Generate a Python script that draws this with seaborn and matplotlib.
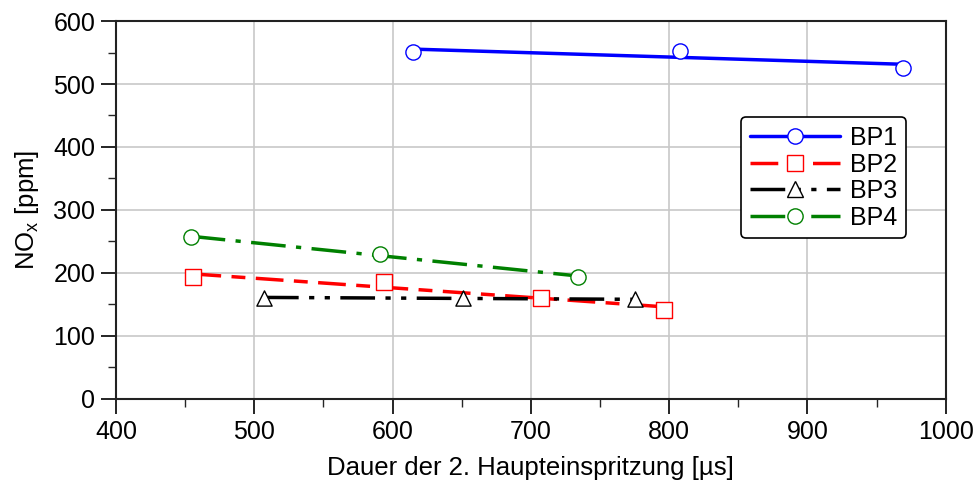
import pandas as pd
import matplotlib.pyplot as plt
import seaborn as sns
from matplotlib.lines import Line2D
from matplotlib.ticker import MultipleLocator

series = ["BP1", "BP2", "BP3", "BP4"]
bp1_x = [614.5, 808, 969]
bp1_y = [551, 552, 526]
bp2_x = [456, 594, 707, 796]
bp2_y = [193, 186, 161, 142]
bp3_x = [507, 651, 775]
bp3_y = [161, 160, 158]
bp4_x = [454, 591, 734]
bp4_y = [257, 230, 194]

colors = {"BP1": "#0000ff", "BP2": "#ff0000", "BP3": "#000000", "BP4": "#008000"}
markers = {"BP1": "o", "BP2": "s", "BP3": "^", "BP4": "o"}
dashes = {"BP1": "-", "BP2": (0, (8, 3, 4, 3)),
          "BP3": (0, (10, 3, 1.5, 3, 1.5, 3)), "BP4": (0, (10, 3, 1.5, 3))}

frames = []
for name, xs, ys in [("BP1", bp1_x, bp1_y), ("BP2", bp2_x, bp2_y),
                     ("BP3", bp3_x, bp3_y), ("BP4", bp4_x, bp4_y)]:
    frames.append(pd.DataFrame({"x": xs, "y": ys, "serie": name}))
df = pd.concat(frames, ignore_index=True)

sns.set_style("ticks")
plt.rcParams["font.family"] = ["Liberation Sans", "DejaVu Sans"]
plt.rcParams["mathtext.fontset"] = "custom"
plt.rcParams["mathtext.rm"] = "Liberation Sans"
plt.rcParams["mathtext.it"] = "Liberation Sans:italic"
plt.rcParams["text.color"] = "black"
plt.rcParams["axes.labelcolor"] = "black"

fig = plt.figure(figsize=(9.77, 4.83), dpi=100)
ax = fig.add_axes([0.1187, 0.174, 0.8493, 0.7825])

handles = []
for name in series:
    sub = df[df["serie"] == name]
    sns.regplot(data=sub, x="x", y="y", ax=ax, ci=None, scatter=False, truncate=True,
                line_kws={"color": colors[name], "lw": 2.5, "ls": dashes[name], "zorder": 3})
    sns.scatterplot(data=sub, x="x", y="y", ax=ax, marker=markers[name], s=120,
                    facecolor="white", edgecolor=colors[name], linewidth=1.0, zorder=4)
    handles.append(Line2D([], [], color=colors[name], lw=2.5, ls=dashes[name],
                          marker=markers[name], markersize=11, markerfacecolor="white",
                          markeredgecolor=colors[name], markeredgewidth=1.0))

ax.set_xlim(400, 1000)
ax.set_ylim(0, 600)
ax.xaxis.set_major_locator(MultipleLocator(100))
ax.xaxis.set_minor_locator(MultipleLocator(50))
ax.yaxis.set_major_locator(MultipleLocator(100))
ax.yaxis.set_minor_locator(MultipleLocator(50))
ax.grid(True, which="major", color="#c8c8c8", lw=1.2, zorder=0)
ax.set_axisbelow(True)
ax.tick_params(which="major", direction="out", length=11, width=1.2, labelsize=18,
               top=False, right=False, colors="black", pad=4)
ax.tick_params(which="minor", direction="out", length=6, width=1.0, top=False, right=False)
for sp in ax.spines.values():
    sp.set_visible(True)
    sp.set_linewidth(1.5)
    sp.set_color("#222222")

ax.set_xlabel("Dauer der 2. Haupteinspritzung [µs]", fontsize=18.5, labelpad=9, color="black")
ax.set_ylabel("NO$_\\mathrm{x}$ [ppm]", fontsize=18.5, labelpad=9, color="black")

leg = ax.legend(handles, series, loc="upper right", bbox_to_anchor=(0.952, 0.745),
                fontsize=18, frameon=True, fancybox=True, handlelength=3.6,
                handletextpad=0.4, labelspacing=0.1, borderpad=0.35, borderaxespad=0)
leg.get_frame().set_edgecolor("black")
leg.get_frame().set_linewidth(1.2)
leg.get_frame().set_alpha(1)
for t in leg.get_texts():
    t.set_color("black")

fig.savefig("out.png", dpi=100)
